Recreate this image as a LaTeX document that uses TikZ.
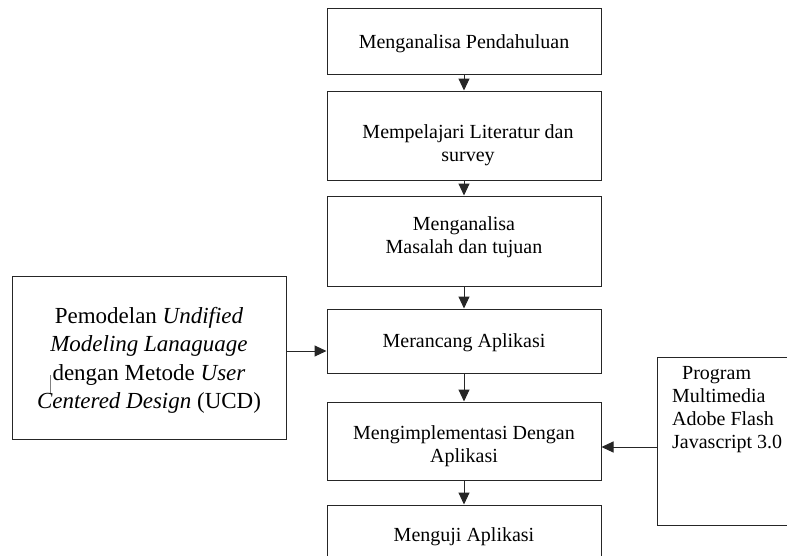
\documentclass[tikz,border=0pt]{standalone}
\usepackage{fontspec}
\setmainfont{Liberation Serif}
\usetikzlibrary{arrows.meta}
\tikzset{
    box/.style={draw=black!85, line width=1pt, minimum width=274pt},
    lbl/.style={inner sep=0pt, align=center, font={\fontsize{20pt}{23pt}\selectfont}},
    arr/.style={draw=black!85, line width=1pt, -{Triangle[length=12pt,width=11pt]}}
}

\begin{document}
\begin{tikzpicture}[x=1pt,y=-1pt]
\useasboundingbox (0,0) rectangle (787,555);
\clip (0,0) rectangle (787,555);
% main column
\node[box, minimum height=66pt] (b1) at (464,41) {};
\node[box, minimum height=89pt] (b2) at (464,135.5) {};
\node[box, minimum height=90pt] (b3) at (464,241) {};
\node[box, minimum height=64pt] (b4) at (464,341) {};
\node[box, minimum height=78pt] (b5) at (464,441) {};
\node[box, minimum height=80pt] (b6) at (464,545) {};
\node[lbl] (t1) at (464,44) {Menganalisa Pendahuluan};
\node[lbl] (t2) at (468,145) {Mempelajari Literatur dan\\survey};
\node[lbl] (t3) at (464,237.5) {Menganalisa\\Masalah dan tujuan};
\node[lbl] (t4) at (464,343) {Merancang Aplikasi};
\node[lbl] (t5) at (464,446) {Mengimplementasi Dengan\\Aplikasi};
\node[lbl] (t6) at (464,537) {Menguji Aplikasi};
% side boxes
\node[box, minimum width=274pt, minimum height=163pt] (lb) at (149,357.5) {};
\node[lbl, font={\fontsize{23pt}{28.5pt}\selectfont}] (tl) at (149,360.5)
    {Pemodelan \textit{Undified}\\\textit{Modeling Lanaguage}\\dengan Metode \textit{User}\\\textit{Centered Design} (UCD)};
\draw[gray, line width=0.8pt] (50,375) -- (50,393);
\node[box, minimum width=163pt, minimum height=168pt] (rb) at (738.5,441) {};
\node[lbl, align=left, anchor=west] (tr) at (672,410)
    {\hspace{0.5em}Program\\Multimedia\\Adobe Flash\\Javascript 3.0};
% arrows
\draw[arr] (b1) -- (b2);
\draw[arr] (b2) -- (b3);
\draw[arr] (b3) -- (b4);
\draw[arr] (b4) -- (b5);
\draw[arr] (b5) -- (b6);
\draw[arr] ([yshift=6.5pt]lb.east) -- ([yshift=6.5pt]lb.east -| b4.west);
\draw[arr] ([yshift=-6pt]rb.west) -- ([yshift=-6pt]rb.west -| b5.east);
\end{tikzpicture}
\end{document}
